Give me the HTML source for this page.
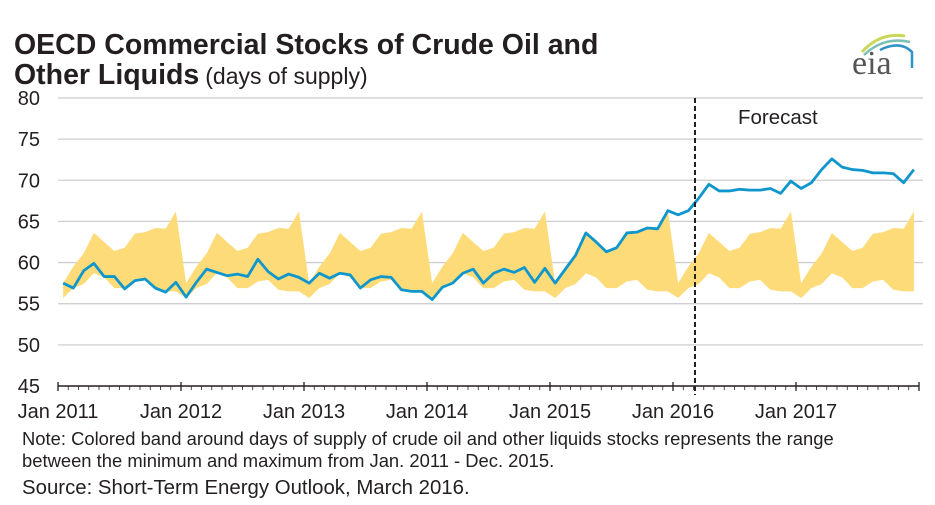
<!DOCTYPE html>
<html><head><meta charset="utf-8"><style>
body{margin:0;background:#fff;width:935px;height:505px;overflow:hidden;font-family:"Liberation Sans",sans-serif;}
svg{display:block}
</style></head><body>
<svg width="935" height="505" xmlns="http://www.w3.org/2000/svg">
<text x="14" y="54" font-size="28.5" font-weight="bold" fill="#231f20">OECD Commercial Stocks of Crude Oil and</text>
<text x="14" y="84" font-size="28.5" fill="#231f20"><tspan font-weight="bold">Other Liquids</tspan><tspan font-size="23" dx="6">(days of supply)</tspan></text>
<g>
<path d="M862,52 Q880,32 905,36" stroke="#c9d85a" stroke-width="3" fill="none"/>
<path d="M864,55 Q884,36 910,42" stroke="#7cc0b4" stroke-width="2.5" fill="none"/>
<path d="M880,50 Q900,40 912,52 L912,68" stroke="#2f93c8" stroke-width="2.5" fill="none"/>
<text x="852" y="74" font-family="Liberation Serif,serif" font-size="34" fill="#555">eia</text>
</g>
<g id="grid"></g>
<g id="band"></g>
<g id="line"></g>
<g id="axis"></g>
<g id="ylab"></g>
<line x1="695" y1="98" x2="695" y2="395" stroke="#222" stroke-width="2" stroke-dasharray="5,3"/>
<text x="738" y="124" font-size="20.5" fill="#231f20">Forecast</text>
<text x="22" y="445" font-size="18.4" fill="#231f20">Note:  Colored band around days of supply of crude oil and other liquids stocks represents the range</text>
<text x="22" y="467" font-size="18.4" fill="#231f20">between the minimum and maximum from Jan. 2011 - Dec. 2015.</text>
<text x="22" y="494" font-size="20.4" fill="#231f20">Source: Short-Term Energy Outlook, March 2016.</text>
</svg>
<script>
const yTicks=[45,50,55,60,65,70,75,80];
const xTickLabels=["Jan 2011","Jan 2012","Jan 2013","Jan 2014","Jan 2015","Jan 2016","Jan 2017"];
const bandMax=[57.5,59.5,61.1,63.6,62.5,61.4,61.8,63.5,63.7,64.2,64.1,66.2];
const bandMin=[55.7,56.9,57.4,58.7,58.2,56.9,56.9,57.7,57.9,56.7,56.5,56.5];
const stocks=[57.5,56.9,59.0,59.9,58.3,58.3,56.8,57.8,58.0,56.9,56.4,57.6,
55.8,57.6,59.2,58.8,58.4,58.6,58.3,60.4,58.9,58.0,58.6,58.2,
57.5,58.7,58.1,58.7,58.5,56.9,57.9,58.3,58.2,56.7,56.5,56.5,
55.5,57.0,57.5,58.7,59.2,57.5,58.7,59.2,58.8,59.4,57.6,59.3,
57.5,59.2,60.9,63.6,62.5,61.3,61.8,63.6,63.7,64.2,64.1,66.3,
65.8,66.3,67.8,69.5,68.7,68.7,68.9,68.8,68.8,69.0,68.4,69.9,
69.0,69.7,71.3,72.6,71.6,71.3,71.2,70.9,70.9,70.8,69.7,71.3];
const NS="http://www.w3.org/2000/svg";
const X0=58,MW=10.25,Y0=386,PU=8.23;
function xm(i){return X0+(i+0.5)*MW;}
function xb(i){return X0+i*MW;}
function yv(v){return Y0-(v-45)*PU;}
const grid=document.getElementById('grid'),ylab=document.getElementById('ylab');
yTicks.forEach(t=>{
  if(t>45){const l=document.createElementNS(NS,'line');
  
  
  l.setAttribute('x1',X0);l.setAttribute('x2',923);l.setAttribute('y1',yv(t));l.setAttribute('y2',yv(t));
  l.setAttribute('stroke','#cfcfcf');l.setAttribute('stroke-width','1.3');grid.appendChild(l);}
  const tx=document.createElementNS(NS,'text');
  
  
  tx.setAttribute('x',40);tx.setAttribute('y',yv(t)+7);tx.setAttribute('text-anchor','end');
  tx.setAttribute('font-size','20');tx.setAttribute('fill','#231f20');tx.textContent=t;ylab.appendChild(tx);
});
const n=stocks.length;
let bandTop=[],bandBot=[];
for(let i=0;i<n;i++){bandTop.push(xm(i)+','+yv(bandMax[i%12]));bandBot.unshift(xm(i)+','+yv(bandMin[i%12]));}
const poly=document.createElementNS(NS,'polygon');


poly.setAttribute('points',bandTop.concat(bandBot).join(' '));poly.setAttribute('fill','#fddb78');
document.getElementById('band').appendChild(poly);
const pl=document.createElementNS(NS,'polyline');


pl.setAttribute('points',stocks.map((v,i)=>xm(i)+','+yv(v)).join(' '));
pl.setAttribute('fill','none');pl.setAttribute('stroke','#0f96cc');pl.setAttribute('stroke-width','2.8');pl.setAttribute('stroke-linejoin','round');
document.getElementById('line').appendChild(pl);
const ax=document.getElementById('axis');
const al=document.createElementNS(NS,'line');


al.setAttribute('x1',X0);al.setAttribute('x2',xb(n));al.setAttribute('y1',Y0);al.setAttribute('y2',Y0);al.setAttribute('stroke','#231f20');al.setAttribute('stroke-width','1.5');ax.appendChild(al);
for(let i=0;i<=n;i++){
  const major=i%12===0;
  const t=document.createElementNS(NS,'line');
  
  
  t.setAttribute('x1',xb(i));t.setAttribute('x2',xb(i));t.setAttribute('y1',major?Y0-4:Y0);t.setAttribute('y2',Y0+(major?5:4));
  t.setAttribute('stroke','#231f20');t.setAttribute('stroke-width',major?'1.3':'0.8');ax.appendChild(t);
}
xTickLabels.forEach((s,k)=>{
  const tx=document.createElementNS(NS,'text');
  
  
  tx.setAttribute('x',xb(k*12));tx.setAttribute('y',418);tx.setAttribute('text-anchor','middle');
  tx.setAttribute('font-size','20');tx.setAttribute('fill','#231f20');tx.textContent=s;ax.appendChild(tx);
});
</script>
</body></html>
